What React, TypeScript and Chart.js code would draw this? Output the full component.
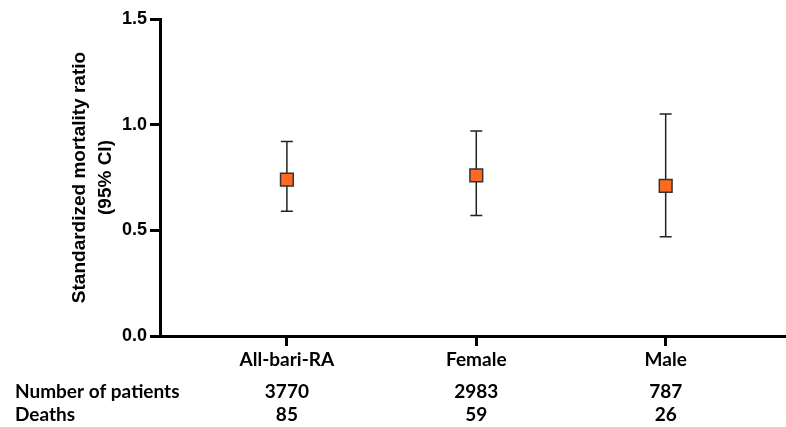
import React, { useEffect, useRef } from "react";
import { Chart, registerables } from "chart.js";

Chart.register(...registerables);

const categories = ["All-bari-RA", "Female", "Male"];
const smr = [0.74, 0.76, 0.71];
const ciLower = [0.59, 0.57, 0.47];
const ciUpper = [0.92, 0.97, 1.05];
const patients = ["3770", "2983", "787"];
const deaths = ["85", "59", "26"];
const rowLabels = ["Number of patients", "Deaths"];
const yTitle = ["Standardized mortality ratio", "(95% CI)"];
const yTicks = [0, 0.5, 1.0, 1.5];

const NARROW = "Lato, 'Liberation Sans Narrow', sans-serif";
const ARIAL = "'Liberation Sans', Arial, sans-serif";

const errorBarPlugin = {
  id: "errorBars",
  beforeDatasetsDraw(chart: any) {
    const { ctx, scales } = chart;
    const xs = scales.x;
    const ys = scales.y;
    ctx.save();
    ctx.strokeStyle = "#222";
    ctx.lineWidth = 1.5;
    for (let i = 0; i < categories.length; i++) {
      const x = xs.getPixelForValue(i + 1);
      const yl = ys.getPixelForValue(ciLower[i]);
      const yu = ys.getPixelForValue(ciUpper[i]);
      ctx.beginPath();
      ctx.moveTo(x, yl);
      ctx.lineTo(x, yu);
      ctx.moveTo(x - 6, yl);
      ctx.lineTo(x + 6, yl);
      ctx.moveTo(x - 6, yu);
      ctx.lineTo(x + 6, yu);
      ctx.stroke();
    }
    ctx.restore();
  },
};

const textPlugin = {
  id: "texts",
  afterDraw(chart: any) {
    const { ctx, scales, chartArea } = chart;
    const xs = scales.x;
    ctx.save();
    const cy = (chartArea.top + chartArea.bottom) / 2;
    ctx.fillStyle = "#000";
    ctx.font = `bold 19px ${ARIAL}`;
    ctx.textAlign = "center";
    ctx.textBaseline = "middle";
    const titleX = [80, 106];
    yTitle.forEach((t, k) => {
      ctx.save();
      ctx.translate(titleX[k], cy);
      ctx.rotate(-Math.PI / 2);
      ctx.fillText(t, 0, 0);
      ctx.restore();
    });
    ctx.font = `bold 19px ${NARROW}`;
    const rowY = [392, 415];
    ctx.textAlign = "left";
    rowLabels.forEach((t, k) => ctx.fillText(t, 15, rowY[k]));
    ctx.textAlign = "center";
    for (let i = 0; i < categories.length; i++) {
      const x = xs.getPixelForValue(i + 1);
      ctx.fillText(patients[i], x, rowY[0]);
      ctx.fillText(deaths[i], x, rowY[1]);
    }
    ctx.restore();
  },
};

export default function App() {
  const ref = useRef<HTMLCanvasElement>(null);
  useEffect(() => {
    if (!ref.current) return;
    const chart = new Chart(ref.current, {
      type: "scatter",
      data: {
        datasets: [
          {
            data: smr.map((v, i) => ({ x: i + 1, y: v })),
            pointStyle: "rect",
            pointRadius: 9,
            pointHoverRadius: 9,
            backgroundColor: "#FF6A22",
            borderColor: "#333",
            borderWidth: 1.5,
          },
        ],
      },
      options: {
        responsive: false,
        animation: false,
        events: [],
        layout: { autoPadding: false, padding: { top: 19, right: 1, left: 0, bottom: 0 } },
        plugins: { legend: { display: false }, tooltip: { enabled: false } },
        scales: {
          x: {
            type: "linear",
            min: 0.33,
            max: 3.63,
            afterBuildTicks: (s: any) => {
              s.ticks = categories.map((_, i) => ({ value: i + 1 }));
            },
            afterFit: (s: any) => {
              s.height = 91;
              s.paddingLeft = 0;
              s.paddingRight = 0;
            },
            ticks: {
              autoSkip: false,
              maxRotation: 0,
              padding: 2,
              color: "#000",
              font: { family: NARROW, size: 19, weight: "bold" },
              callback: (v: any) => categories[Number(v) - 1] ?? "",
            },
            grid: {
              drawOnChartArea: false,
              drawTicks: true,
              tickLength: 10,
              tickWidth: 3,
              tickColor: "#000",
            },
            border: { display: true, width: 3, color: "#000" },
          },
          y: {
            type: "linear",
            min: 0,
            max: 1.5,
            afterBuildTicks: (s: any) => {
              s.ticks = yTicks.map((v) => ({ value: v }));
            },
            afterFit: (s: any) => {
              s.width = 160;
              s.paddingTop = 0;
              s.paddingBottom = 0;
            },
            ticks: {
              padding: 3,
              color: "#000",
              font: { family: ARIAL, size: 18, weight: "bold" },
              callback: (v: any) => Number(v).toFixed(1),
            },
            grid: {
              drawOnChartArea: false,
              drawTicks: true,
              tickLength: 10,
              tickWidth: 3,
              tickColor: "#000",
            },
            border: { display: true, width: 3, color: "#000" },
          },
        },
      },
      plugins: [errorBarPlugin, textPlugin],
    } as any);
    return () => chart.destroy();
  }, []);
  return (
    <div style={{ position: "absolute", left: 0, top: 0, width: 786, height: 427, background: "#fff" }}>
      <canvas ref={ref} width={786} height={427} />
    </div>
  );
}
